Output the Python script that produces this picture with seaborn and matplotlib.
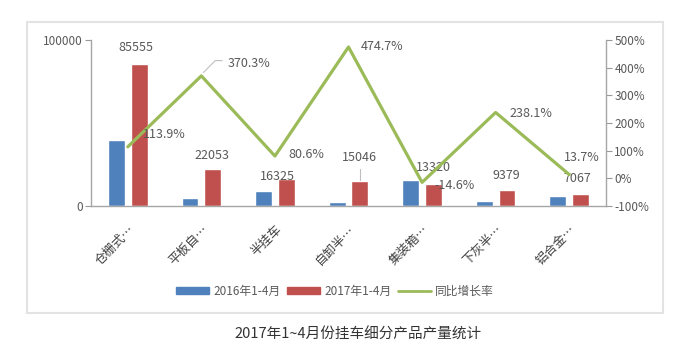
import numpy as np
import pandas as pd
import seaborn as sns
import matplotlib.pyplot as plt
from matplotlib.patches import Rectangle, Patch
from matplotlib.lines import Line2D

# data
categories = ['仓栅式…', '平板自…', '半挂车', '自卸半…', '集装箱…', '下灰半…', '铝合金…']
output_2016 = [40000, 4690, 9040, 2620, 15600, 2770, 6220]
output_2017 = [85555, 22053, 16325, 15046, 13320, 9379, 7067]
growth_pct = [113.9, 370.3, 80.6, 474.7, -14.6, 238.1, 13.7]

BLUE = '#4F81BD'
RED = '#C0504D'
GREEN = '#9BBB59'
GRAY = '#595959'

sns.set_style('white')
plt.rcParams['font.family'] = ['Noto Sans CJK SC', 'DejaVu Sans']

df = pd.DataFrame({
    'cat': categories * 2,
    'val': output_2016 + output_2017,
    'period': ['2016年1-4月'] * 7 + ['2017年1-4月'] * 7,
})

fig = plt.figure(figsize=(6.9, 3.59), dpi=100)
# light frame around chart
fig.patches.append(Rectangle((27 / 690, 1 - 313 / 359), 636 / 690, 291 / 359,
                             transform=fig.transFigure, fill=False,
                             edgecolor='#e3e3e3', lw=1.5))

ax = fig.add_axes([91 / 690, 153 / 359, 515 / 690, 166 / 359])
sns.barplot(data=df, x='cat', y='val', hue='period', palette=[BLUE, RED],
            width=0.62, gap=0.26, ax=ax, legend=False, saturation=1)
ax.set_ylim(0, 100000)
ax.set_yticks([0, 100000])
ax.set_yticklabels(['0', '100000'])
ax.set_xlim(-0.5, 6.5)
ax.set_xlabel('')
ax.set_ylabel('')
ax.set_xticks(range(7))
ax.set_xticklabels(categories, rotation=45, ha='right', rotation_mode='anchor',
                   fontsize=9, color='#404040')
ax.tick_params(axis='x', length=0, pad=12)
ax.tick_params(axis='y', length=4, width=0.8, color='#999999', labelsize=8.5,
               labelcolor=GRAY, pad=2, direction='out', left=True)
for s in ['top', 'right']:
    ax.spines[s].set_visible(False)
for s in ['left', 'bottom']:
    ax.spines[s].set_color('#a6a6a6')
    ax.spines[s].set_linewidth(1)

ax2 = ax.twinx()
sns.lineplot(x=np.arange(7), y=growth_pct, color=GREEN, lw=2.3, ax=ax2)
ax2.set_ylim(-100, 500)
ax2.set_yticks(range(-100, 501, 100))
ax2.set_yticklabels([f'{t}%' for t in range(-100, 501, 100)])
ax2.tick_params(axis='y', length=4, width=0.8, color='#999999', labelsize=8.5,
                labelcolor=GRAY, pad=2, direction='out', right=True)
for s in ['top', 'left', 'bottom']:
    ax2.spines[s].set_visible(False)
ax2.spines['right'].set_color('#a6a6a6')
ax2.spines['right'].set_linewidth(1)

# bar value labels (2017)
bar_off = [(-2, 12), (0, 10), (-6, 2), (0, 17), (0, 12), (0, 11), (-2, 11)]
for i, (v, o) in enumerate(zip(output_2017, bar_off)):
    ax.annotate(f'{v}', xy=(i + 0.15, v), xytext=o, textcoords='offset points',
                ha='center', va='center', fontsize=9, color=GRAY)
# leader line for 15046
ax.plot([3.15, 3.15], [output_2017[3] + 800, output_2017[3] + 7500],
        color='#bfbfbf', lw=0.8)

# growth labels
pct_off = [(11, 9), (19, 9), (10, 1), (9, 0), (9, -2), (10, -1), (-4, 12)]
for i, (g, o) in enumerate(zip(growth_pct, pct_off)):
    ax2.annotate(f'{g}%', xy=(i, g), xytext=o, textcoords='offset points',
                 ha='left', va='center', fontsize=9, color=GRAY)
# leader line for 370.3%
ax2.annotate('', xy=(1, growth_pct[1] + 5), xytext=(17, 10), textcoords='offset points',
             arrowprops=dict(arrowstyle='-', color='#bfbfbf', lw=0.8,
                             connectionstyle='angle,angleA=0,angleB=45,rad=0'))

handles = [Patch(color=BLUE), Patch(color=RED), Line2D([0], [0], color=GREEN, lw=2)]
labels = ['2016年1-4月', '2017年1-4月', '同比增长率']
fig.legend(handles, labels, loc='center', bbox_to_anchor=(335 / 690, 1 - 291 / 359),
           ncol=3, frameon=False, fontsize=8.5, labelcolor=GRAY,
           handlelength=2.8, handleheight=0.5, handletextpad=0.4, columnspacing=0.5)

fig.text(358 / 690, 1 - 335 / 359, '2017年1~4月份挂车细分产品产量统计',
         ha='center', va='center', fontsize=10.5, color='#333333')

fig.savefig('out.png', dpi=100)
